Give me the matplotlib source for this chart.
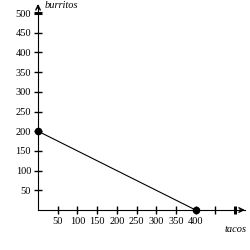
import numpy as np
import matplotlib
matplotlib.use('Agg')
import matplotlib.pyplot as plt

# budget line data
tacos = [0, 400]
burritos = [200, 0]
x_ticks = [50, 100, 150, 200, 250, 300, 350, 400, 450]
x_labels = ['50', '100', '150', '200', '250', '300', '350', '400', '']
y_ticks = [50, 100, 150, 200, 250, 300, 350, 400, 450]
y_labels = ['50', '100', '150', '200', '250', '300', '350', '400', '450']

plt.rcParams['font.family'] = 'Liberation Serif'

fig = plt.figure(figsize=(2.5, 2.5), dpi=100)
ax = fig.add_axes([0, 0, 1, 1])
ax.set_xlim(-96.5, 538)
ax.set_ylim(-101.5, 533)

for s in ['top', 'right']:
    ax.spines[s].set_visible(False)
ax.spines['left'].set_position(('data', 0))
ax.spines['bottom'].set_position(('data', 0))
ax.spines['left'].set_bounds(0, 520)
ax.spines['bottom'].set_bounds(0, 525)

ax.set_xticks(x_ticks)
ax.set_xticklabels(x_labels)
ax.set_yticks(y_ticks)
ax.set_yticklabels(y_labels)
ax.set_xticks([500], minor=True)
ax.set_yticks([500], minor=True)
ax.set_yticklabels(['500'], minor=True)
ax.tick_params(which='major', direction='inout', length=6, width=1, labelsize=7.5, pad=2)
ax.tick_params(which='minor', direction='inout', length=6, width=2.2, labelsize=7.5, pad=2)

# arrows
ax.annotate('', xy=(0, 530), xytext=(0, 505),
            arrowprops=dict(arrowstyle='->', lw=1, color='black', mutation_scale=8))
ax.annotate('', xy=(532, 0), xytext=(505, 0),
            arrowprops=dict(arrowstyle='->', lw=1, color='black', mutation_scale=8))

ax.plot(tacos, burritos, color='black', lw=0.8, marker='o', markersize=4.5, clip_on=False)

ax.text(16, 518, 'burritos', fontsize=7.5, style='italic', va='center', ha='left')
ax.text(502, -50, 'tacos', fontsize=7.5, style='italic', va='center', ha='center')

fig.savefig('out.png', dpi=100)
